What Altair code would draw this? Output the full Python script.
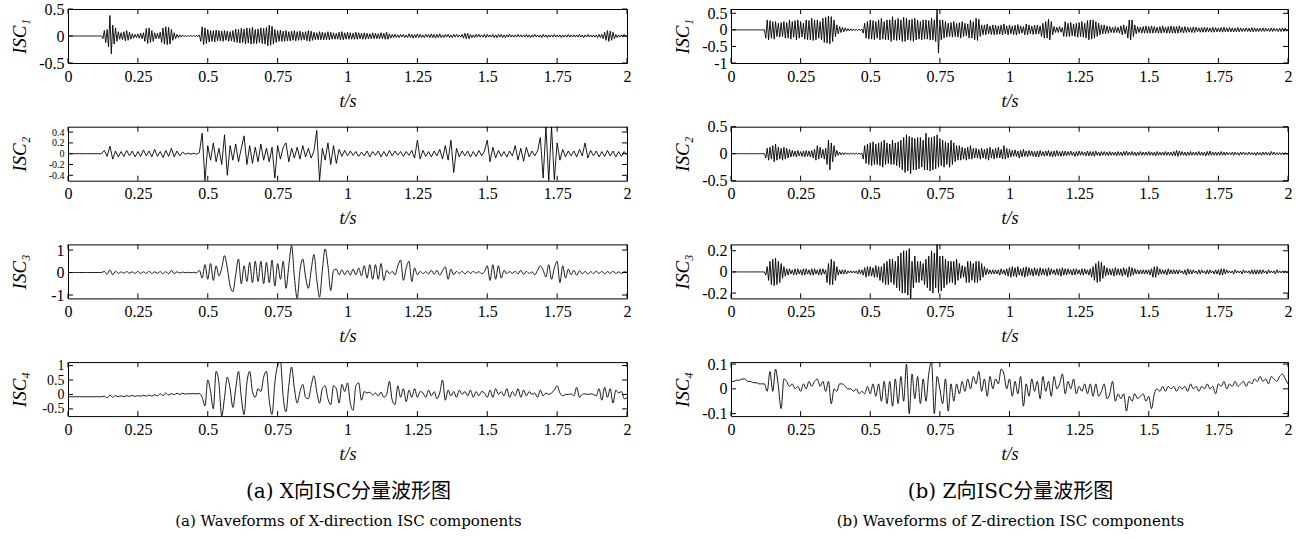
import altair as alt
import pandas as pd

# time grids (s): samples every 0.01 s, and half-step samples for the dense traces
T = [round(i * 0.01, 2) for i in range(201)]
TH = [round(0.005 + i * 0.01, 3) for i in range(200)]
XTICKS = [0, 0.25, 0.5, 0.75, 1, 1.25, 1.5, 1.75, 2]

# ---- X direction ----
# ISC1: positive peaks (t = 0, 0.01, ...) and negative troughs (t = 0.005, 0.015, ...)
X1_PEAK = [0,0,0,0,0,0,0,0,0,0,
           0,0,0,.1,.12,.38,.2,.15,.08,.06,
           .08,.1,.07,.04,.03,.04,.05,.06,.14,.15,
           .1,.06,.05,.07,.15,.17,.16,.12,.06,.03,
           .02,.02,.01,.01,.01,.01,.01,.02,.17,.15,
           .12,.1,.1,.11,.1,.09,.1,.09,.08,.1,
           .13,.12,.14,.13,.15,.14,.16,.12,.13,.15,
           .14,.16,.2,.18,.12,.1,.11,.09,.1,.08,
           .09,.1,.08,.09,.07,.08,.1,.09,.07,.06,
           .08,.07,.06,.08,.07,.06,.05,.07,.08,.06,
           .07,.06,.05,.07,.06,.05,.06,.05,.04,.06,
           .05,.04,.06,.05,.07,.04,.03,.03,.02,.03,
           .03,.02,.04,.03,.03,.04,.03,.02,.03,.03,
           .04,.03,.03,.04,.02,.03,.03,.02,.03,.03,
           .02,.03,.05,.05,.03,.02,.03,.03,.02,.03,
           .03,.02,.03,.02,.03,.03,.02,.02,.03,.02,
           .02,.03,.02,.02,.03,.02,.02,.03,.02,.02,
           .03,.02,.02,.02,.03,.02,.02,.02,.02,.03,
           .02,.02,.02,.03,.02,.02,.03,.02,.02,.02,
           .03,.03,.07,.1,.09,.07,.03,.02,.02,.03,
           .01]
X1_TROUGH = [0,0,0,0,0,0,0,0,0,0,
             0,0,-.05,-.12,-.2,-.33,-.15,-.1,-.06,-.07,
             -.09,-.08,-.06,-.04,-.03,-.04,-.05,-.1,-.14,-.12,
             -.1,-.05,-.05,-.12,-.15,-.16,-.15,-.08,-.05,-.03,
             -.02,-.01,-.01,-.01,-.01,-.01,-.01,-.1,-.16,-.14,
             -.11,-.1,-.11,-.09,-.09,-.1,-.08,-.1,-.09,-.11,
             -.12,-.13,-.12,-.15,-.13,-.15,-.14,-.14,-.12,-.14,
             -.15,-.18,-.17,-.15,-.12,-.1,-.1,-.1,-.09,-.09,
             -.08,-.09,-.08,-.08,-.07,-.09,-.1,-.08,-.07,-.07,
             -.07,-.07,-.07,-.07,-.06,-.06,-.06,-.07,-.07,-.06,
             -.06,-.06,-.06,-.06,-.05,-.06,-.06,-.05,-.05,-.05,
             -.05,-.05,-.05,-.06,-.06,-.04,-.03,-.03,-.03,-.02,
             -.03,-.03,-.03,-.04,-.03,-.03,-.03,-.03,-.02,-.03,
             -.03,-.04,-.03,-.03,-.03,-.02,-.03,-.03,-.02,-.02,
             -.02,-.04,-.05,-.05,-.03,-.03,-.02,-.02,-.02,-.03,
             -.02,-.02,-.03,-.03,-.02,-.03,-.03,-.02,-.02,-.02,
             -.02,-.02,-.02,-.02,-.02,-.03,-.02,-.02,-.02,-.03,
             -.02,-.03,-.02,-.02,-.02,-.02,-.03,-.02,-.02,-.02,
             -.02,-.02,-.02,-.02,-.03,-.02,-.02,-.02,-.02,-.03,
             -.03,-.05,-.08,-.1,-.08,-.05,-.03,-.02,-.02,-.02]

X2 = [0,0,0,0,0,0,0,0,0,0,
      0,0,0,.06,-.05,.14,-.1,.05,-.06,.04,
      -.05,.06,-.04,.05,-.06,.04,-.05,.07,-.04,.05,
      -.06,.08,-.05,.04,-.07,.06,-.05,.1,-.06,.05,
      -.04,.03,-.01,.01,-.01,.01,-.01,.02,.38,-.5,
      .15,-.12,.2,-.15,.1,-.2,.35,-.4,.15,-.12,
      .18,-.15,.1,.33,-.2,.15,-.18,.12,-.15,.18,
      -.12,.1,-.15,.12,-.45,.15,-.1,.12,.2,-.15,
      .1,-.08,.12,-.1,.15,-.06,.1,-.08,.05,.43,
      -.5,.1,-.12,.2,-.2,.15,-.18,.08,-.05,.06,
      -.04,.05,-.03,.04,-.05,.03,-.04,.05,-.06,.04,
      -.03,.05,-.06,.04,-.05,.06,-.04,.05,-.03,.04,
      -.05,.04,-.03,.06,-.08,.25,-.1,.06,-.05,.04,
      -.06,.05,-.04,.08,-.1,.15,-.12,.25,-.35,.1,
      -.06,.05,-.04,.05,-.06,.04,-.05,.06,-.04,.05,
      .25,-.15,.12,-.08,.06,-.05,.04,-.06,.05,-.04,
      .15,-.12,.1,-.14,.12,-.06,.05,-.04,.05,.3,
      -.45,.5,-.5,.5,-.48,.2,-.12,.08,-.06,.05,
      -.04,.05,-.06,.08,-.04,.2,-.08,.06,-.04,.05,
      -.06,.04,-.05,.06,-.04,.05,-.06,.04,-.05,.04,
      -.02]

X3 = [0,0,0,0,0,0,0,0,0,0,
      0,0,0,.05,-.08,.12,-.1,.06,-.04,.03,
      -.03,.04,-.03,.03,-.04,.05,-.04,.03,-.04,.05,
      -.04,.03,-.03,.04,-.05,.04,-.06,.1,-.05,.03,
      -.02,.02,-.01,.01,-.01,.01,-.02,.1,-.25,.35,
      -.3,.4,-.35,.3,-.15,.2,.75,.2,-.6,-.85,
      -.1,.6,-.5,.3,-.4,.45,-.45,.5,-.4,.5,
      -.5,.45,-.45,.55,-.6,.4,-.3,.5,-.7,.3,
      1.2,-.2,-1.15,.1,.6,-.2,-.7,.1,.8,-.3,
      -1.1,.1,1.05,.3,-.8,.1,.15,-.1,.12,-.1,
      .1,-.12,.15,-.1,.2,-.15,.3,-.25,.35,-.3,
      .35,-.3,.4,-.35,.1,-.05,.05,-.1,.3,.55,
      -.35,.2,.5,-.4,.2,-.1,.05,-.05,.04,-.06,
      .1,-.08,.1,-.12,.08,.25,-.3,.15,-.1,.05,
      -.04,.05,-.06,.05,-.04,.05,-.03,.04,-.05,.04,
      .3,-.35,.35,-.3,.3,-.25,.1,-.05,.04,-.03,
      .05,-.06,.1,-.08,.05,-.04,.03,-.1,.1,.3,
      .1,-.2,.35,-.3,.2,.5,-.45,.3,-.25,.15,
      -.1,.1,-.12,.08,-.06,.05,-.06,.04,-.05,.06,
      -.04,.05,-.06,.04,-.03,.05,-.04,.03,-.04,.03,
      .02]

X4 = [-.08,-.08,-.08,-.08,-.08,-.08,-.08,-.08,-.08,-.08,
      -.08,-.08,-.08,-.06,-.12,-.02,-.1,-.04,-.08,-.05,
      -.08,-.04,-.07,-.03,-.07,-.04,-.06,-.03,-.06,-.02,
      -.06,-.01,-.05,.02,-.04,.05,-.02,.03,-.01,.04,
      0,.04,.01,.03,.02,.03,.02,.03,-.1,-.4,
      .5,.1,-.5,.8,.4,-.75,-.1,.6,.2,-.45,
      .2,.8,-.1,-.7,.4,.8,.1,-.1,.2,.1,
      .6,.8,-.2,-.7,.4,1.0,1.15,-.1,-.6,.3,
      .95,.2,-.3,.1,.35,-.1,-.15,.3,.65,.1,
      -.3,.2,.3,-.15,-.35,.3,.2,-.3,.35,.1,
      .4,-.3,-.55,.3,.4,-.2,.1,.05,.08,-.02,
      .05,-.05,.08,-.1,0,.45,-.2,-.35,.3,-.1,
      .2,-.25,.15,-.1,.2,-.1,.1,.05,-.1,.15,
      -.05,.1,-.15,.05,.5,-.2,.15,-.05,.1,-.1,
      .15,0,.1,-.05,.15,-.1,.1,-.05,.1,.05,
      -.1,.15,-.1,.2,0,.1,-.05,.2,-.1,.1,
      -.05,.2,-.1,.15,-.05,.1,0,.05,-.1,.15,
      -.05,.05,0,.05,.15,.3,.05,-.05,0,0,
      .02,-.05,.25,-.1,0,.02,0,.02,0,-.05,
      .2,-.2,.25,-.1,.2,-.3,.15,.05,.1,-.15,
      -.12]

# ---- Z direction ----
Z1_PEAK = [0,0,0,0,0,0,0,0,0,0,
           0,0,0,.3,.28,.25,.25,.2,.22,.25,
           .22,.3,.25,.28,.3,.25,.2,.3,.28,.35,
           .3,.3,.25,.35,.38,.42,.4,.3,.15,.1,
           .08,.06,.04,.03,.03,.02,.02,.03,.2,.25,
           .3,.28,.25,.3,.35,.25,.3,.3,.4,.3,
           .35,.3,.38,.35,.3,.32,.35,.3,.25,.3,
           .3,.28,.35,.3,.65,.3,.3,.25,.2,.22,
           .25,.2,.22,.25,.2,.18,.3,.25,.35,.32,
           .15,.15,.18,.12,.15,.14,.12,.15,.18,.12,
           .15,.12,.14,.16,.12,.1,.18,.15,.12,.14,
           .15,.12,.2,.25,.32,.25,.1,.08,.1,.07,
           .25,.2,.22,.18,.2,.22,.25,.2,.28,.3,
           .3,.25,.2,.15,.15,.12,.1,.08,.1,.08,
           .12,.15,.1,.3,.3,.15,.1,.08,.1,.12,
           .1,.12,.1,.08,.1,.12,.08,.1,.12,.1,
           .1,.12,.08,.1,.08,.07,.09,.08,.06,.07,
           .08,.07,.06,.08,.07,.06,.07,.08,.06,.07,
           .06,.05,.07,.06,.05,.06,.05,.07,.06,.05,
           .05,.06,.05,.04,.06,.05,.04,.05,.06,.05,
           0]
Z1_TROUGH = [0,0,0,0,0,0,0,0,0,0,
             0,0,-.25,-.3,-.25,-.28,-.2,-.22,-.2,-.25,
             -.25,-.28,-.22,-.3,-.25,-.22,-.28,-.3,-.3,-.32,
             -.3,-.25,-.3,-.38,-.4,-.42,-.35,-.2,-.12,-.08,
             -.06,-.04,-.03,-.03,-.02,-.02,-.02,-.1,-.25,-.28,
             -.28,-.3,-.25,-.3,-.28,-.3,-.3,-.35,-.3,-.32,
             -.3,-.35,-.35,-.3,-.32,-.35,-.3,-.28,-.3,-.28,
             -.28,-.3,-.3,-.35,-.7,-.3,-.25,-.22,-.2,-.22,
             -.2,-.22,-.25,-.2,-.18,-.25,-.25,-.3,-.32,-.2,
             -.15,-.15,-.12,-.14,-.15,-.14,-.13,-.15,-.12,-.15,
             -.12,-.14,-.16,-.12,-.1,-.15,-.15,-.12,-.14,-.13,
             -.12,-.2,-.25,-.25,-.3,-.15,-.08,-.08,-.07,-.2,
             -.2,-.2,-.18,-.2,-.22,-.2,-.22,-.25,-.3,-.28,
             -.25,-.2,-.15,-.12,-.12,-.1,-.08,-.09,-.08,-.1,
             -.15,-.12,-.25,-.3,-.2,-.12,-.08,-.1,-.1,-.1,
             -.1,-.1,-.09,-.1,-.1,-.08,-.1,-.1,-.1,-.1,
             -.1,-.08,-.09,-.08,-.07,-.08,-.08,-.06,-.07,-.07,
             -.07,-.06,-.07,-.07,-.06,-.06,-.07,-.06,-.06,-.06,
             -.06,-.06,-.06,-.05,-.05,-.05,-.06,-.06,-.05,-.05,
             -.05,-.05,-.04,-.05,-.05,-.04,-.05,-.05,-.05,-.04]

Z2_PEAK = [0,0,0,0,0,0,0,0,0,0,
           0,0,0,.1,.12,.15,.18,.12,.1,.12,
           .1,.08,.06,.05,.06,.04,.05,.06,.05,.06,
           .08,.15,.12,.08,.1,.25,.2,.15,.06,.03,
           .02,.02,.01,.01,.01,.01,.01,.01,.15,.18,
           .2,.22,.18,.2,.22,.25,.2,.18,.25,.2,
           .22,.25,.3,.35,.32,.3,.28,.3,.3,.25,
           .38,.3,.3,.32,.35,.28,.25,.22,.2,.25,
           .2,.15,.15,.12,.1,.12,.15,.1,.1,.08,
           .1,.08,.1,.12,.08,.1,.12,.08,.15,.1,
           .08,.06,.07,.05,.06,.08,.05,.06,.05,.04,
           .05,.06,.04,.05,.06,.04,.05,.06,.04,.05,
           .05,.04,.05,.03,.04,.05,.04,.03,.05,.04,
           .04,.05,.03,.04,.04,.03,.04,.03,.03,.04,
           .03,.04,.05,.03,.04,.03,.03,.04,.03,.03,
           .04,.03,.03,.04,.03,.03,.04,.03,.03,.04,
           .06,.05,.04,.03,.03,.04,.03,.03,.04,.03,
           .03,.04,.05,.03,.03,.03,.04,.03,.03,.02,
           .03,.03,.02,.03,.03,.02,.03,.02,.02,.03,
           .02,.03,.03,.02,.04,.03,.02,.02,.02,.02,
           0]
Z2_TROUGH = [0,0,0,0,0,0,0,0,0,0,
             0,0,-.08,-.12,-.1,-.15,-.12,-.1,-.12,-.1,
             -.08,-.06,-.05,-.06,-.04,-.05,-.06,-.05,-.06,-.08,
             -.12,-.1,-.08,-.1,-.2,-.3,-.15,-.06,-.03,-.02,
             -.02,-.01,-.01,-.01,-.01,-.01,-.01,-.1,-.18,-.2,
             -.22,-.2,-.2,-.22,-.25,-.2,-.18,-.2,-.2,-.22,
             -.25,-.3,-.35,-.32,-.37,-.3,-.3,-.28,-.25,-.3,
             -.3,-.32,-.3,-.28,-.25,-.22,-.25,-.2,-.25,-.2,
             -.15,-.12,-.12,-.1,-.12,-.1,-.1,-.08,-.08,-.1,
             -.08,-.1,-.12,-.08,-.1,-.08,-.08,-.1,-.1,-.08,
             -.06,-.05,-.05,-.08,-.06,-.05,-.06,-.04,-.05,-.06,
             -.06,-.04,-.05,-.04,-.05,-.06,-.05,-.04,-.05,-.04,
             -.04,-.03,-.03,-.05,-.04,-.03,-.03,-.04,-.04,-.04,
             -.05,-.03,-.04,-.03,-.03,-.04,-.03,-.03,-.04,-.03,
             -.04,-.03,-.03,-.03,-.03,-.04,-.03,-.03,-.03,-.03,
             -.03,-.03,-.04,-.03,-.03,-.03,-.03,-.03,-.04,-.04,
             -.05,-.03,-.03,-.04,-.03,-.03,-.03,-.03,-.03,-.03,
             -.04,-.03,-.03,-.03,-.03,-.03,-.03,-.03,-.02,-.02,
             -.03,-.02,-.03,-.02,-.02,-.02,-.02,-.02,-.03,-.02,
             -.03,-.02,-.02,-.03,-.02,-.02,-.02,-.02,-.02,-.01]

Z3_PEAK = [0,0,0,0,0,0,0,0,0,0,
           0,0,0,.05,.1,.12,.13,.1,.08,.05,
           .03,.03,.02,.03,.03,.02,.03,.03,.02,.03,
           .03,.02,.03,.03,.02,.08,.12,.1,.05,.02,
           .02,.02,.01,.01,.01,.01,.02,.02,.04,.05,
           .05,.04,.06,.05,.05,.08,.1,.12,.12,.1,
           .15,.18,.2,.2,.22,.1,.15,.1,.1,.08,
           .12,.15,.2,.18,.3,.15,.15,.12,.1,.1,
           .1,.12,.08,.06,.05,.1,.1,.08,.1,.1,
           .08,.05,.03,.02,.02,.02,.02,.03,.02,.03,
           .04,.05,.04,.05,.03,.04,.05,.04,.03,.04,
           .03,.04,.03,.03,.04,.03,.02,.03,.03,.04,
           .03,.03,.02,.03,.03,.02,.03,.03,.02,.03,
           .05,.08,.1,.09,.06,.04,.03,.03,.04,.03,
           .03,.04,.03,.05,.04,.03,.02,.02,.02,.02,
           .02,.03,.05,.05,.03,.02,.02,.03,.02,.02,
           .02,.02,.01,.02,.03,.02,.02,.01,.02,.02,
           .01,.02,.02,.01,.02,.02,.03,.03,.02,.01,
           .01,.02,.01,.01,.02,.01,.01,.02,.02,.02,
           .02,.02,.01,.02,.01,.01,.02,.01,.01,.01,
           0]
Z3_TROUGH = [0,0,0,0,0,0,0,0,0,0,
             0,0,-.03,-.08,-.12,-.13,-.12,-.1,-.06,-.04,
             -.03,-.02,-.03,-.03,-.02,-.03,-.03,-.02,-.03,-.03,
             -.02,-.03,-.03,-.02,-.1,-.12,-.12,-.08,-.03,-.02,
             -.02,-.02,-.01,-.01,-.01,-.02,-.02,-.03,-.05,-.04,
             -.04,-.05,-.05,-.08,-.1,-.12,-.12,-.1,-.12,-.15,
             -.18,-.2,-.2,-.22,-.3,-.15,-.1,-.1,-.08,-.12,
             -.15,-.18,-.2,-.15,-.2,-.18,-.15,-.12,-.1,-.1,
             -.12,-.08,-.06,-.05,-.1,-.1,-.08,-.1,-.1,-.08,
             -.05,-.03,-.02,-.02,-.02,-.02,-.03,-.02,-.03,-.04,
             -.05,-.04,-.05,-.03,-.04,-.05,-.04,-.03,-.04,-.03,
             -.04,-.03,-.03,-.04,-.03,-.02,-.03,-.03,-.04,-.03,
             -.03,-.02,-.03,-.03,-.02,-.03,-.03,-.02,-.03,-.05,
             -.08,-.1,-.09,-.06,-.04,-.03,-.03,-.04,-.03,-.03,
             -.04,-.03,-.05,-.04,-.03,-.02,-.02,-.02,-.02,-.02,
             -.03,-.05,-.05,-.03,-.02,-.02,-.03,-.02,-.02,-.02,
             -.02,-.01,-.02,-.03,-.02,-.02,-.01,-.02,-.02,-.01,
             -.02,-.02,-.01,-.02,-.02,-.03,-.03,-.02,-.01,-.01,
             -.02,-.01,-.01,-.02,-.01,-.01,-.02,-.02,-.02,-.02,
             -.02,-.01,-.02,-.01,-.01,-.02,-.01,-.01,-.01,-.01]

Z4 = [.03,.03,.035,.035,.04,.04,.03,.03,.025,.025,
      .02,.02,.02,-.01,.07,-.01,.08,.01,-.08,.04,
      .03,.01,.02,0,.01,-.01,.02,0,.03,.01,
      .03,.04,.01,.03,-.01,.03,-.06,0,-.01,.02,
      .02,.01,0,0,-.01,0,-.02,-.01,-.02,.01,
      -.02,.02,-.03,.02,-.05,.03,-.06,.03,-.07,.04,
      -.06,.05,-.05,.1,-.1,.06,-.04,.05,-.06,.04,
      -.05,.06,.11,-.1,.05,0,-.06,.04,-.09,.02,
      -.05,.02,-.02,.03,-.01,.04,0,.05,.02,.07,
      -.01,.04,-.03,.05,0,.04,.02,.08,.06,0,
      .04,-.03,.03,-.02,.05,-.07,.02,-.03,.04,-.01,
      .03,-.04,.05,-.01,.03,-.03,.05,0,.02,.06,
      -.02,.03,0,.04,-.02,.01,-.01,.02,-.02,.02,
      -.03,.02,-.03,-.01,.02,-.04,-.02,.03,-.05,-.02,
      -.04,-.02,-.09,-.03,-.05,-.02,-.04,-.03,-.02,-.05,
      -.03,-.08,-.02,0,-.01,.01,-.01,.01,0,.01,
      -.01,.01,0,.01,-.01,.02,0,.01,-.01,.01,
      0,.02,0,.01,-.02,.02,.01,.03,0,.02,
      .01,.03,.01,.02,.03,.01,.03,.02,.04,.03,
      .05,.03,.04,.02,.05,.04,.03,.05,.06,.04,
      .02]

SERIF = "Liberation Serif, Times New Roman, serif"
CAPTION_FONT = "DejaVu Serif, Noto Sans CJK SC, serif"
W_L, W_R, H = 559, 557, 54


def single(vals):
    return pd.DataFrame({"t": T, "v": vals})


def dense(peaks, troughs):
    df = pd.concat([pd.DataFrame({"t": T, "v": peaks}),
                    pd.DataFrame({"t": TH, "v": troughs})])
    return df.sort_values("t").reset_index(drop=True)


def panel(df, domain, yticks, ylabel, width, interp, ylab_size=16):
    xs = alt.Scale(domain=[0, 2], nice=False, zero=False)
    ys = alt.Scale(domain=domain, nice=False, zero=False)
    xax = alt.Axis(values=XTICKS, title="t/s", labelExpr="'' + datum.value",
                   labelPadding=5, titlePadding=9, titleFontStyle="italic",
                   minExtent=20, maxExtent=20)
    yax = alt.Axis(values=yticks, title=ylabel, labelExpr="'' + datum.value",
                   labelPadding=4, titlePadding=11, titleFontStyle="italic",
                   labelFontSize=ylab_size, titleFontSize=19,
                   minExtent=28, maxExtent=28)
    line = alt.Chart(df).mark_line(
        color="black", strokeWidth=0.9, clip=True, interpolate=interp
    ).encode(
        x=alt.X("t:Q", scale=xs, axis=xax),
        y=alt.Y("v:Q", scale=ys, axis=yax),
    )
    xt = pd.DataFrame({"t": XTICKS})
    yt = pd.DataFrame({"v": yticks})
    top = alt.Chart(xt).mark_rule(color="black", strokeWidth=1).encode(
        x=alt.X("t:Q", scale=xs, axis=xax), y=alt.value(0), y2=alt.value(5))
    bot = alt.Chart(xt).mark_rule(color="black", strokeWidth=1).encode(
        x=alt.X("t:Q", scale=xs, axis=xax), y=alt.value(H - 5), y2=alt.value(H))
    lft = alt.Chart(yt).mark_rule(color="black", strokeWidth=1).encode(
        y=alt.Y("v:Q", scale=ys, axis=yax), x=alt.value(0), x2=alt.value(5))
    rgt = alt.Chart(yt).mark_rule(color="black", strokeWidth=1).encode(
        y=alt.Y("v:Q", scale=ys, axis=yax), x=alt.value(width - 5), x2=alt.value(width))
    # invisible spacer so every panel reserves the same room above its frame
    pad = alt.Chart(pd.DataFrame({"s": ["."]})).mark_text(
        opacity=0, fontSize=8, baseline="middle").encode(
        text="s:N", x=alt.value(0), y=alt.value(-4.5))
    return alt.layer(line, top, bot, lft, rgt, pad).properties(width=width, height=H)


def caption(zh, en):
    return alt.TitleParams(
        text=zh, subtitle=en, orient="bottom", anchor="middle",
        font=CAPTION_FONT, fontSize=20, fontWeight="normal", color="black",
        subtitleFont=CAPTION_FONT, subtitleFontSize=15, subtitleColor="black",
        subtitlePadding=12, offset=18, dx=28)


left = alt.vconcat(
    panel(dense(X1_PEAK, X1_TROUGH), [-0.5, 0.5], [0.5, 0, -0.5], "ISC₁", W_L, "linear"),
    panel(single(X2), [-0.5, 0.5], [0.4, 0.2, 0, -0.2, -0.4], "ISC₂", W_L, "linear", 10),
    panel(single(X3), [-1.15, 1.25], [1, 0, -1], "ISC₃", W_L, "monotone"),
    panel(single(X4), [-0.75, 1.12], [1, 0.5, 0, -0.5], "ISC₄", W_L, "monotone", 14),
    spacing=6.7,
).properties(title=caption("(a) X向ISC分量波形图",
                           "(a) Waveforms of X-direction ISC components"))

right = alt.vconcat(
    panel(dense(Z1_PEAK, Z1_TROUGH), [-1, 0.63], [0.5, 0, -0.5, -1], "ISC₁", W_R, "linear"),
    panel(dense(Z2_PEAK, Z2_TROUGH), [-0.5, 0.5], [0.5, 0, -0.5], "ISC₂", W_R, "linear"),
    panel(dense(Z3_PEAK, Z3_TROUGH), [-0.25, 0.26], [0.2, 0, -0.2], "ISC₃", W_R, "linear"),
    panel(single(Z4), [-0.11, 0.108], [0.1, 0, -0.1], "ISC₄", W_R, "monotone"),
    spacing=6.7,
).properties(title=caption("(b) Z向ISC分量波形图",
                           "(b) Waveforms of Z-direction ISC components"))

chart = alt.hconcat(left, right, spacing=40).properties(
    padding={"left": 9, "top": 0, "right": 5, "bottom": 5},
    background="white",
).configure_view(
    stroke="black", strokeWidth=1
).configure_axis(
    ticks=False, domain=False, grid=False, labelFlush=False, labelBound=False,
    labelOverlap=False, labelFont=SERIF, labelFontSize=16, labelColor="black",
    titleFont=SERIF, titleFontSize=18, titleFontWeight="normal", titleColor="black",
)

chart.save("out.html", embed_options={"renderer": "svg", "actions": False})
